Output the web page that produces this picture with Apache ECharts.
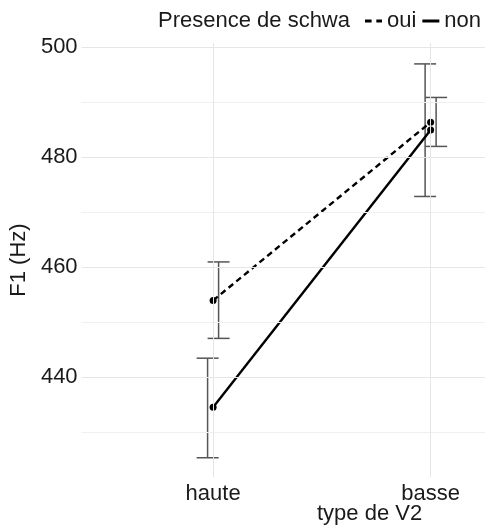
<!DOCTYPE html>
<html>
<head>
<meta charset="utf-8">
<script src="https://cdn.jsdelivr.net/npm/echarts@6/dist/echarts.min.js"></script>
<style>
html,body{margin:0;padding:0;background:#fff;}
#chart{width:492px;height:529px;}
</style>
</head>
<body>
<div id="chart"></div>
<script>
// ---- data ----
const categories = ['haute', 'basse'];
const ouiMean = [453.9, 486.3];
const ouiLow  = [447.0, 481.9];
const ouiHigh = [460.9, 490.8];
const nonMean = [434.5, 484.9];
const nonLow  = [425.3, 472.8];
const nonHigh = [443.4, 496.9];
const yTicks = [440, 460, 480, 500];
const yMinor = [430, 450, 470, 490];
const xTicks = [1, 2];

const FONT = 'Liberation Sans, Arial, sans-serif';
const TXT = '#1a1a1a';

const chart = echarts.init(document.getElementById('chart'), null, {renderer: 'canvas'});

function pts(means) { return means.map((v, i) => [xTicks[i], v]); }
function errs(low, high) { return low.map((v, i) => [xTicks[i], v, high[i]]); }

function errRender(dodge) {
  return function (params, api) {
    const x = api.value(0);
    const p1 = api.coord([x, api.value(1)]);
    const p2 = api.coord([x, api.value(2)]);
    const cx = p1[0] + dodge;
    const hw = 11;
    const st = {stroke: '#555', lineWidth: 1.5, fill: null};
    return {
      type: 'group',
      children: [
        {type: 'line', shape: {x1: cx, y1: p1[1], x2: cx, y2: p2[1]}, style: st},
        {type: 'line', shape: {x1: cx - hw, y1: p1[1], x2: cx + hw, y2: p1[1]}, style: st},
        {type: 'line', shape: {x1: cx - hw, y1: p2[1], x2: cx + hw, y2: p2[1]}, style: st}
      ]
    };
  };
}

const gridMarks = [];
yTicks.forEach(v => gridMarks.push({yAxis: v, lineStyle: {color: '#e6e6e6', width: 1, type: 'solid'}}));
yMinor.forEach(v => gridMarks.push({yAxis: v, lineStyle: {color: '#f0f0f0', width: 1, type: 'solid'}}));
xTicks.forEach(v => gridMarks.push({xAxis: v, lineStyle: {color: '#e6e6e6', width: 1, type: 'solid'}}));

const option = {
  animation: false,
  backgroundColor: '#fff',
  textStyle: {fontFamily: FONT},
  grid: {left: 77, right: 7, top: 43, bottom: 52},
  graphic: [
    {type: 'text', left: 158, top: 10, style: {text: 'Presence de schwa', font: '22px ' + FONT, fill: TXT}},
    {type: 'text', left: 317, top: 503, style: {text: 'type de V2', font: '22px ' + FONT, fill: TXT, align: 'center'}}
  ],
  legend: {
    orient: 'horizontal',
    left: 365, top: 10, padding: 0,
    itemWidth: 17, itemHeight: 3, itemGap: 6,
    textStyle: {fontSize: 22, fontFamily: FONT, color: TXT},
    data: [
      {name: 'oui', icon: 'path://M0,0h7v3h-7z M12,0h6v3h-6z', itemStyle: {color: '#000'}},
      {name: 'non', icon: 'rect', itemStyle: {color: '#000'}}
    ]
  },
  xAxis: {
    type: 'value', min: 0.3955, max: 2.25,
    axisLine: {show: false}, axisTick: {show: false}, splitLine: {show: false},
    axisLabel: {
      customValues: xTicks, margin: 6,
      fontSize: 22, fontFamily: FONT, color: TXT,
      formatter: v => categories[Math.round(v) - 1]
    }
  },
  yAxis: {
    type: 'value', min: 421.8, max: 500.7,
    name: 'F1 (Hz)', nameLocation: 'middle', nameGap: 37,
    nameTextStyle: {fontSize: 22, fontFamily: FONT, color: TXT},
    axisLine: {show: false}, axisTick: {show: false}, splitLine: {show: false},
    axisLabel: {customValues: yTicks, margin: 4, fontSize: 22, fontFamily: FONT, color: TXT}
  },
  series: [
    {
      name: 'grid', type: 'scatter', data: [], z: 0, silent: true,
      markLine: {silent: true, symbol: 'none', label: {show: false}, animation: false, data: gridMarks}
    },
    {
      type: 'custom', name: 'errOui', data: errs(ouiLow, ouiHigh), renderItem: errRender(5.5), z: 2, silent: true
    },
    {
      type: 'custom', name: 'errNon', data: errs(nonLow, nonHigh), renderItem: errRender(-5.5), z: 2, silent: true
    },
    {
      name: 'oui', type: 'line', data: pts(ouiMean), symbol: 'none', z: 3,
      lineStyle: {color: '#000', width: 2.4, type: [6, 4]}, itemStyle: {color: '#000'}
    },
    {
      name: 'non', type: 'line', data: pts(nonMean), symbol: 'none', z: 3,
      lineStyle: {color: '#000', width: 2.4, type: 'solid'}, itemStyle: {color: '#000'}
    },
    {
      name: 'ptsOui', type: 'scatter', data: pts(ouiMean), symbolSize: 7, z: 4,
      itemStyle: {color: '#000', opacity: 1, borderWidth: 0}
    },
    {
      name: 'ptsNon', type: 'scatter', data: pts(nonMean), symbolSize: 7, z: 4,
      itemStyle: {color: '#000', opacity: 1, borderWidth: 0}
    }
  ]
};
chart.setOption(option);
</script>
</body>
</html>
